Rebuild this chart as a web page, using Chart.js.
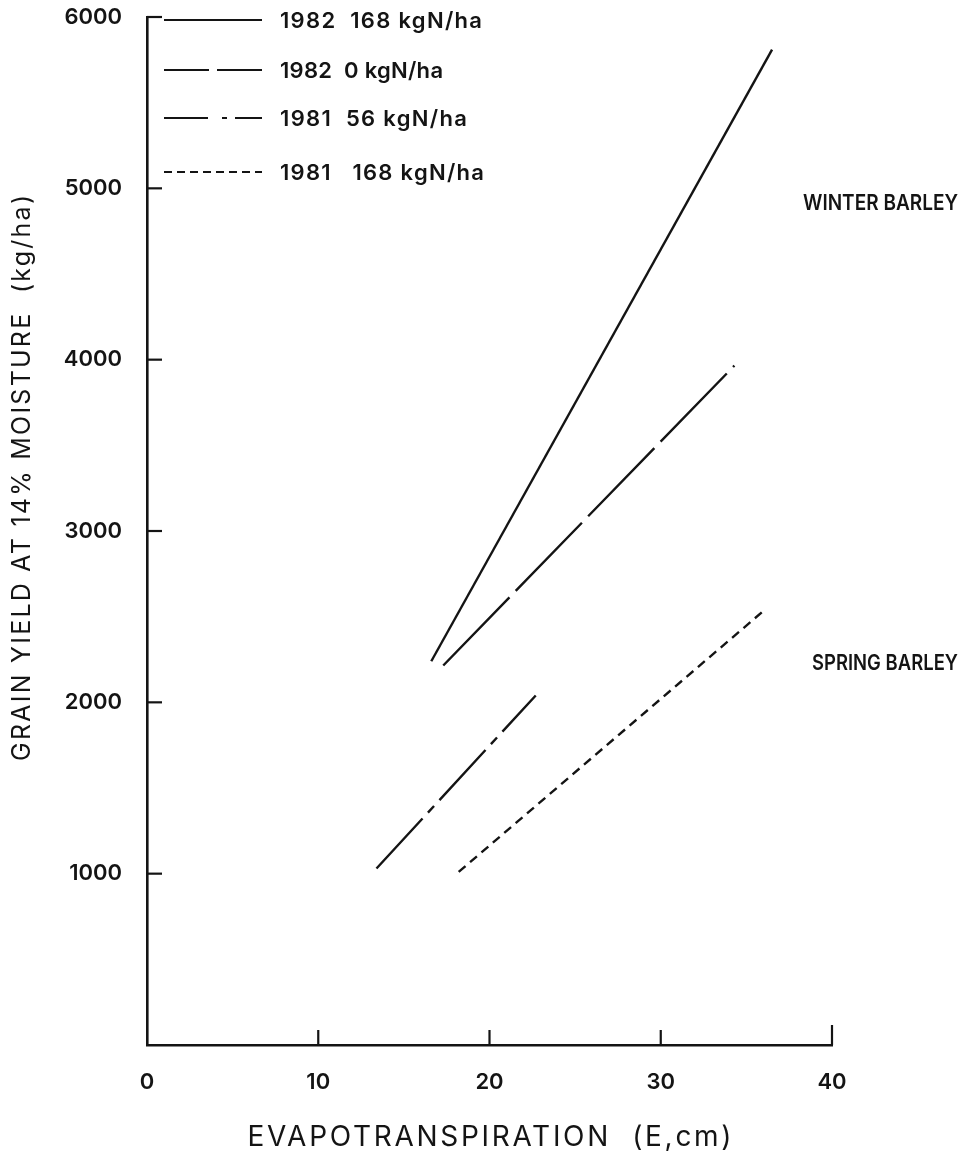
<!DOCTYPE html>
<html>
<head>
<meta charset="utf-8">
<script src="https://cdn.jsdelivr.net/npm/chart.js@4.4.1/dist/chart.umd.min.js"></script>
<style>
  html, body { margin: 0; padding: 0; background: #fff; }
  #wrap { width: 968px; height: 1154px; }
</style>
</head>
<body>
<div id="wrap"><canvas id="chart"></canvas></div>
<script>
// grain yield against evapotranspiration: fitted line end points per year / N rate
const seriesLabels = ['1982  168 kgN/ha', '1982  0 kgN/ha', '1981  56 kgN/ha', '1981   168 kgN/ha'];
const et1982N168 = [16.6, 36.5];
const yield1982N168 = [2240, 5810];
const et1982N0 = [17.3, 34.3];
const yield1982N0 = [2215, 3965];
const et1981N56 = [13.4, 22.7];
const yield1981N56 = [1030, 2040];
const et1981N168 = [18.2, 35.9];
const yield1981N168 = [1010, 2525];

const xTickValues = [0, 10, 20, 30, 40];
const yTickValues = [1000, 2000, 3000, 4000, 5000, 6000];
const cropNotes = ['WINTER BARLEY', 'SPRING BARLEY'];

const INK = '#141414';
const FONT = 'Inter, "Liberation Sans", sans-serif';

const toPoints = (xs, ys) => xs.map((x, i) => ({ x: x, y: ys[i] }));

const line = (label, xs, ys, dash, keyDash) => ({
  label: label,
  data: toPoints(xs, ys),
  showLine: true,
  borderColor: INK,
  borderWidth: 2.4,
  borderDash: dash,
  keyDash: keyDash,
  pointRadius: 0,
  fill: false,
});

const datasets = [
  line(seriesLabels[0], et1982N168, yield1982N168, [], []),
  line(seriesLabels[1], et1982N0, yield1982N0, [95, 9], [45, 8]),
  line(seriesLabels[2], et1981N56, yield1981N56, [68, 8, 9, 8], [44, 14, 5, 8]),
  line(seriesLabels[3], et1981N168, yield1981N168, [9, 6], [8, 5]),
];

// spread text out (or squeeze it) so it covers the given width
const fitText = (ctx, text, x, y, width) => {
  ctx.letterSpacing = '0px';
  const w = ctx.measureText(text).width;
  if (w > width) {
    ctx.fillText(text, x, y, width);
    return;
  }
  const gap = (width - w) / (text.length - 1);
  ctx.letterSpacing = gap.toFixed(2) + 'px';
  const shift = ctx.textAlign === 'center' ? gap / 2 : 0;
  ctx.fillText(text, x + shift, y);
  ctx.letterSpacing = '0px';
};

// inward tick marks, the key in the corner, crop names and axis titles
const extras = {
  id: 'extras',
  afterDraw(chart) {
    const { ctx, scales: { x, y } } = chart;
    const x0 = x.getPixelForValue(0);
    const y0 = y.getPixelForValue(0);
    ctx.save();
    ctx.strokeStyle = INK;
    ctx.fillStyle = INK;
    ctx.lineWidth = 2.2;
    ctx.setLineDash([]);

    y.ticks.forEach(t => {
      const py = y.getPixelForValue(t.value);
      ctx.beginPath();
      ctx.moveTo(x0, py);
      ctx.lineTo(x0 + 15, py);
      ctx.stroke();
    });
    x.ticks.forEach(t => {
      if (t.value === 0) return;
      const px = x.getPixelForValue(t.value);
      const len = t.value === 40 ? 20 : 15;
      ctx.beginPath();
      ctx.moveTo(px, y0);
      ctx.lineTo(px, y0 - len);
      ctx.stroke();
    });

    // key
    const rows = [20, 70, 118, 172];
    const spans = [202, 163, 187, 204];
    ctx.font = '600 22px ' + FONT;
    ctx.textBaseline = 'middle';
    ctx.textAlign = 'left';
    chart.data.datasets.forEach((ds, i) => {
      ctx.beginPath();
      ctx.setLineDash(ds.keyDash);
      ctx.lineWidth = 2;
      ctx.moveTo(164, rows[i]);
      ctx.lineTo(262, rows[i]);
      ctx.stroke();
      ctx.setLineDash([]);
      fitText(ctx, ds.label, 280, rows[i] + 1, spans[i]);
    });

    // crop names
    ctx.font = '600 22px ' + FONT;
    ctx.textAlign = 'left';
    fitText(ctx, cropNotes[0], 803, y.getPixelForValue(4915), 155);
    fitText(ctx, cropNotes[1], 812, y.getPixelForValue(2230), 146);

    // axis titles
    ctx.font = '400 28px ' + FONT;
    ctx.textAlign = 'center';
    fitText(ctx, 'EVAPOTRANSPIRATION  (E,cm)', (x.left + x.right) / 2, 1138, 484);
    ctx.font = '400 25px ' + FONT;
    ctx.translate(22, 478);
    ctx.rotate(-Math.PI / 2);
    fitText(ctx, 'GRAIN YIELD AT 14% MOISTURE  (kg/ha)', 0, 0, 566);
    ctx.restore();
  }
};

new Chart(document.getElementById('chart'), {
  type: 'scatter',
  data: { datasets: datasets },
  options: {
    responsive: true,
    maintainAspectRatio: false,
    animation: false,
    layout: { padding: { top: 17, right: 136, left: 0, bottom: 0 } },
    plugins: {
      legend: { display: false },
      tooltip: { enabled: false },
    },
    scales: {
      x: {
        type: 'linear',
        min: 0,
        max: 40,
        afterBuildTicks: s => { s.ticks = xTickValues.map(v => ({ value: v })); },
        afterFit: s => { s.height = 109; s.paddingLeft = 0; s.paddingRight = 0; },
        grid: { display: false, drawTicks: false },
        border: { display: true, color: INK, width: 2.6 },
        ticks: {
          color: INK,
          padding: 24,
          font: { family: FONT, size: 22, weight: '600' },
          callback: v => String(v),
        },
      },
      y: {
        type: 'linear',
        min: 0,
        max: 6000,
        afterBuildTicks: s => { s.ticks = yTickValues.map(v => ({ value: v })); },
        afterFit: s => { s.width = 147; s.paddingTop = 0; s.paddingBottom = 0; },
        grid: { display: false, drawTicks: false },
        border: { display: true, color: INK, width: 2.6 },
        ticks: {
          color: INK,
          padding: 25,
          font: { family: FONT, size: 22, weight: '600' },
          callback: v => String(v),
        },
      },
    },
  },
  plugins: [extras],
});
</script>
</body>
</html>
